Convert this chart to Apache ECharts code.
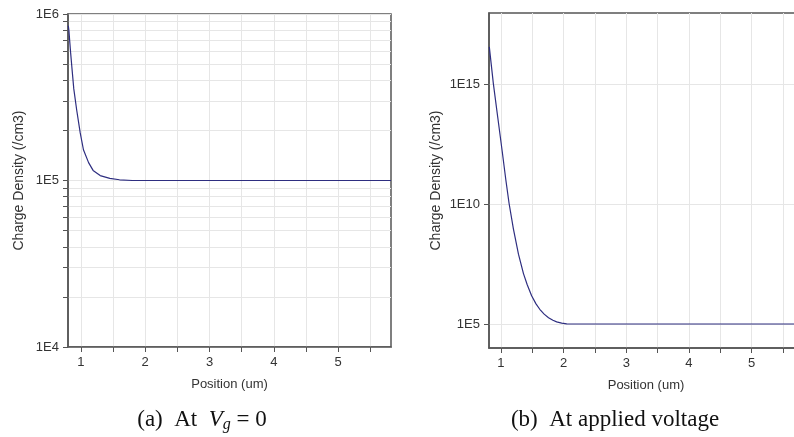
<!DOCTYPE html>
<html>
<head>
<meta charset="utf-8">
<script src="https://cdn.jsdelivr.net/npm/echarts@6/dist/echarts.min.js"></script>
<style>
  html, body { margin: 0; padding: 0; background: #fff; }
  #chart { width: 794px; height: 437px; }
</style>
</head>
<body>
<div id="chart"></div>
<script>
// (a) At Vg = 0
var posA = [0.805, 0.815, 0.825, 0.84, 0.86, 0.89, 0.935, 0.99, 1.04, 1.12, 1.19, 1.3, 1.45, 1.6, 1.8, 2.5, 3.5, 4.5, 5.82];
var densA = [8.5e5, 7.9e5, 7.0e5, 5.9e5, 4.8e5, 3.55e5, 2.65e5, 1.93e5, 1.53e5, 1.28e5, 1.15e5, 1.07e5, 1.03e5, 1.01e5, 1.0e5, 1.0e5, 1.0e5, 1.0e5, 1.0e5];

// (b) At applied voltage
var posB = [0.815, 0.88, 0.95, 1.02, 1.08, 1.13, 1.2, 1.28, 1.36, 1.42, 1.49, 1.56, 1.62, 1.69, 1.76, 1.83, 1.89, 1.97, 2.05, 2.15, 2.5, 3.5, 4.5, 5.82];
var densB = [3.5e16, 1e15, 4e13, 1.6e12, 9.5e10, 1.07e10, 8.9e8, 8.1e7, 1.26e7, 4.3e6, 1.5e6, 6.9e5, 4.1e5, 2.57e5, 1.82e5, 1.43e5, 1.23e5, 1.08e5, 1.02e5, 1.0e5, 1.0e5, 1.0e5, 1.0e5, 1.0e5];

// tick values
var xTicks = [1, 1.5, 2, 2.5, 3, 3.5, 4, 4.5, 5, 5.5];
var xLabels = [1, 2, 3, 4, 5];
var yTicksA = [1e4, 2e4, 3e4, 4e4, 5e4, 6e4, 7e4, 8e4, 9e4, 1e5, 2e5, 3e5, 4e5, 5e5, 6e5, 7e5, 8e5, 9e5, 1e6];
var yLabelsA = [1e4, 1e5, 1e6];
var yTicksB = [1e5, 1e10, 1e15];

var myChart = echarts.init(document.getElementById('chart'));

var axisColor = '#555';
var gridColor = '#e6e6e6';
var labelFont = { color: '#333', fontFamily: 'Liberation Sans', fontSize: 13 };

function pairs(xs, ys) {
  return xs.map(function (x, i) { return [x, ys[i]]; });
}
function expLabel(v) {
  return '1E' + Math.round(Math.log10(v));
}
function xAxisFor(idx, min, max) {
  return {
    gridIndex: idx,
    type: 'value',
    min: min,
    max: max,
    name: 'Position (um)',
    nameLocation: 'middle',
    nameGap: 31,
    nameTextStyle: labelFont,
    axisLine: { lineStyle: { color: axisColor, width: 1.5 } },
    axisTick: { length: 5, customValues: xTicks, lineStyle: { color: axisColor } },
    axisLabel: Object.assign({ margin: 9, customValues: xLabels }, labelFont),
    splitLine: { show: true, lineStyle: { color: gridColor } }
  };
}
function yAxisFor(idx, min, max, ticks, labels, gap) {
  return {
    gridIndex: idx,
    type: 'log',
    logBase: 10,
    min: min,
    max: max,
    name: 'Charge Density (/cm3)',
    nameLocation: 'middle',
    nameGap: gap,
    nameTextStyle: Object.assign({}, labelFont, { fontSize: 14 }),
    axisLine: { show: true, lineStyle: { color: axisColor, width: 1.5 } },
    axisTick: { show: true, length: 5, customValues: ticks, lineStyle: { color: axisColor } },
    axisLabel: Object.assign({ margin: 9, customValues: labels, formatter: expLabel }, labelFont),
    splitLine: { show: true, lineStyle: { color: gridColor } }
  };
}

var option = {
  animation: false,
  grid: [
    { left: 68, top: 14, right: 403, bottom: 90, show: true, borderColor: axisColor, borderWidth: 1.5,
      containLabel: false, outerBoundsMode: 'none' },
    { left: 489, top: 13, right: -9, bottom: 89, show: true, borderColor: axisColor, borderWidth: 1.5,
      containLabel: false, outerBoundsMode: 'none' }
  ],
  xAxis: [xAxisFor(0, 0.8, 5.82), xAxisFor(1, 0.81, 5.82)],
  yAxis: [
    yAxisFor(0, 1e4, 1e6, yTicksA, yLabelsA, 42),
    yAxisFor(1, 1e4, 9e17, yTicksB, yTicksB, 46)
  ],
  series: [
    {
      type: 'line', xAxisIndex: 0, yAxisIndex: 0,
      data: pairs(posA, densA),
      showSymbol: false,
      lineStyle: { color: '#2e2e80', width: 1.2 }
    },
    {
      type: 'line', xAxisIndex: 1, yAxisIndex: 1,
      data: pairs(posB, densB),
      showSymbol: false,
      lineStyle: { color: '#2e2e80', width: 1.2 }
    }
  ],
  graphic: [
    {
      type: 'text', x: 202, y: 420,
      style: {
        text: '(a)  At  {i|V}{s|g} = 0',
        align: 'center', verticalAlign: 'middle',
        font: '23px "Liberation Serif"', fill: '#111',
        rich: {
          i: { fontStyle: 'italic', fontSize: 23, fontFamily: 'Liberation Serif' },
          s: { fontStyle: 'italic', fontSize: 16, fontFamily: 'Liberation Serif', padding: [10, 0, 0, 0] }
        }
      }
    },
    {
      type: 'text', x: 615, y: 420,
      style: {
        text: '(b)  At applied voltage',
        align: 'center', verticalAlign: 'middle',
        font: '23px "Liberation Serif"', fill: '#111'
      }
    }
  ]
};

myChart.setOption(option);
window.addEventListener('resize', function () {
  myChart.resize();
});
</script>
</body>
</html>
